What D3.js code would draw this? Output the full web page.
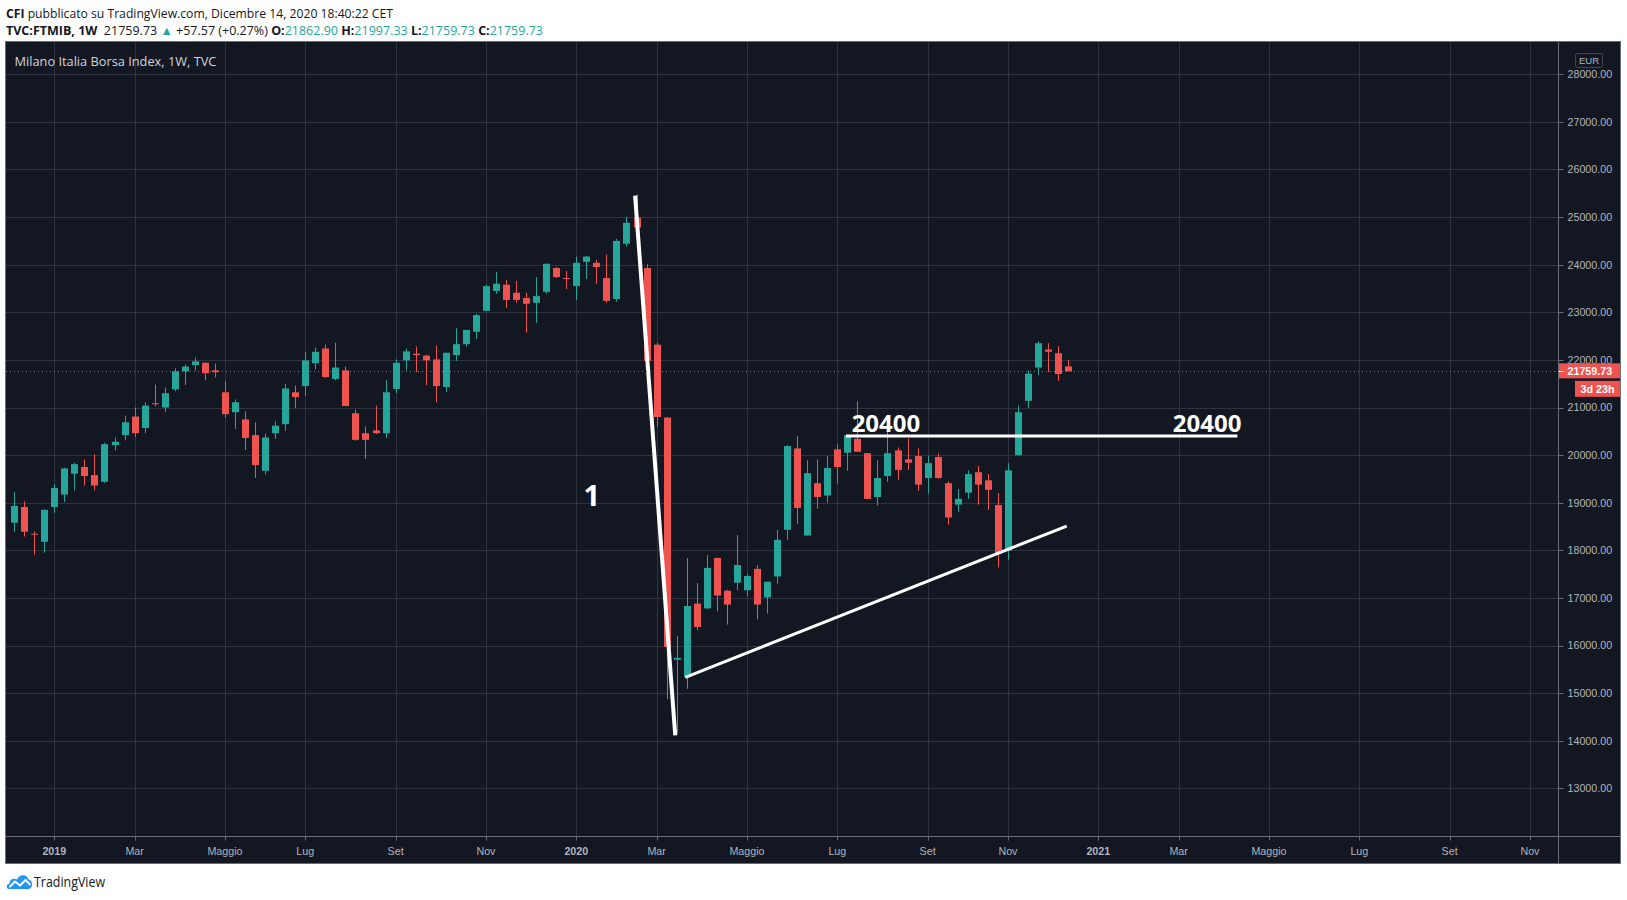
<!DOCTYPE html>
<html><head><meta charset="utf-8">
<script src="https://cdn.jsdelivr.net/npm/d3@7"></script>
<style>
html,body{margin:0;padding:0;background:#ffffff;}
svg{display:block;}
</style></head><body>
<svg id="chart" width="1627" height="900"></svg>
<script>
// ---------------- DATA ----------------
const firstWeek = "2018-12-10"; // Monday of first weekly bar
const openVals = [18580,18910,18350,18180,18910,19170,19610,19750,19580,19440,
  20210,20420,20810,20570,21090,21000,21380,21760,21890,21940,
  21780,21320,20900,20750,20420,19670,20460,20650,21320,21450,
  21930,22240,21600,21780,20880,20460,20520,20460,21390,21990,
  22130,22090,22010,21430,22100,22330,22590,23030,23450,23580,
  23410,23300,23200,23430,23930,23720,23550,24060,24040,23720,
  23280,24440,24990,23930,22320,20790,15700,15340,16880,16780,
  17840,17150,17320,17160,17610,17010,17450,18430,20140,18310,
  19410,19150,20120,20050,20340,20040,19120,19560,20100,19910,
  19980,19520,19960,19410,18960,19210,19640,19470,18950,17990,
  20000,21140,21840,22220,22140,21862.90];
const highVals = [19220,19030,18400,18860,19390,19740,19840,19910,20020,20260,
  20370,20830,21000,21110,21480,21420,21820,21900,22050,21950,
  21920,21550,21170,20920,20690,20450,20710,21500,21460,22170,
  22260,22320,22360,21860,20960,20600,21040,21570,22010,22240,
  22280,22110,22300,22150,22670,22630,22970,23580,23850,23680,
  23660,23410,23740,24020,23950,23870,24170,24190,24100,24210,
  24540,25010,25480,24010,22360,20790,16200,17840,17310,17900,
  17840,17170,18320,17500,17690,17340,18430,20210,20400,19890,
  19910,19980,20230,20420,21130,20040,19890,20480,20160,20350,
  20140,19980,20040,19450,19290,19680,19770,19600,19200,19830,
  21040,21780,22390,22350,22290,21997.33];
const lowVals = [18390,18290,17910,17950,18790,19010,19260,19360,19260,19420,
  20100,20310,20380,20460,21020,20900,21340,21470,21780,21570,
  21630,20780,20550,20110,19520,19590,20340,20510,20990,21240,
  21800,21620,21570,21030,20300,19920,20440,20360,21300,21780,
  21740,21470,21110,21320,21980,22280,22440,23030,23390,23090,
  23200,22570,22780,23390,23720,23490,23260,23700,23600,23200,
  23220,24380,24660,21690,20600,14870,14150,15090,16320,16760,
  16720,16440,17160,17030,16550,16670,17300,18220,18560,18310,
  18870,19000,19400,19670,20070,19080,18940,19440,19480,19690,
  19250,19190,19500,18540,18810,19080,18960,18850,17640,17800,
  19980,20990,21680,21740,21560,21759.73];
const closeVals = [18930,18390,18330,18850,19310,19720,19810,19560,19360,20230,
  20280,20690,20460,21040,21070,21300,21760,21860,21970,21720,
  21740,20860,21110,20360,19790,20370,20620,21400,21220,21990,
  22170,21640,21840,21030,20320,20320,20460,21320,21940,22180,
  22100,21990,21450,22150,22330,22630,22940,23550,23600,23260,
  23260,23180,23340,24020,23740,23700,24040,24170,23950,23240,
  24500,24880,24780,21980,20800,15970,15740,16830,16390,17630,
  17050,16860,17690,17460,16860,17340,18220,20190,18890,19620,
  19120,19730,19750,20420,20070,19080,19520,20040,19690,19840,
  19380,19830,19520,18690,19080,19600,19380,19270,17940,19680,
  20900,21710,22350,22170,21702.16,21759.73];

const priceTicks = [13000,14000,15000,16000,17000,18000,19000,20000,21000,22000,23000,24000,25000,26000,27000,28000];
const timeTickDates = ["2019-01-07","2019-03-04","2019-05-06","2019-07-01","2019-09-02","2019-11-04",
  "2020-01-06","2020-03-02","2020-05-04","2020-07-06","2020-09-07","2020-11-02",
  "2021-01-04","2021-03-01","2021-05-03","2021-07-05","2021-09-06","2021-11-01"];
const timeTickLabels = ["2019","Mar","Maggio","Lug","Set","Nov","2020","Mar","Maggio","Lug","Set","Nov",
  "2021","Mar","Maggio","Lug","Set","Nov"];

// drawings (date, price)
const lineStartDates = ["2020-02-16","2020-03-22","2020-07-12"];
const lineStartPrices = [25450,15330,20400];
const lineEndDates = ["2020-03-15","2020-12-13","2021-04-11"];
const lineEndPrices = [14110,18510,20400];
const noteTexts = ["1","20400","20400"];
const noteDates = ["2020-01-11","2020-07-16","2021-02-25"];
const noteBasePrices = [18924,20494,20494];

// ---------------- LAYOUT ----------------
const paneL = 6, paneT = 42, paneR = 1620, paneB = 863;
const plotR = 1558.5, plotB = 836.5;
const BG = "#131722", GRID = "#2f3340", BORDER = "#6a6d78", TXT = "#b2b5be";
const UP = "#26a69a", DOWN = "#ef5350";
const axisFont = "'Liberation Sans', Arial, sans-serif";

const parse = d3.timeParse("%Y-%m-%d");
const svg = d3.select("#chart");

const x = d3.scaleTime()
  .domain([parse("2020-01-06"), parse("2021-01-04")])
  .range([576.3, 1098.3]);
const y = d3.scaleLinear().domain([13000, 28000]).range([788.3, 74.3]);

const start = parse(firstWeek);
const bars = openVals.map((o, i) => ({
  date: d3.timeDay.offset(start, 7 * i),
  o, h: highVals[i], l: lowVals[i], c: closeVals[i]
}));

// pane background
svg.append("rect").attr("x", paneL).attr("y", paneT)
  .attr("width", paneR - paneL).attr("height", paneB - paneT).attr("fill", BG);

svg.append("clipPath").attr("id", "plotclip").append("rect")
  .attr("x", paneL).attr("y", paneT).attr("width", plotR - paneL).attr("height", plotB - paneT);

const plot = svg.append("g").attr("clip-path", "url(#plotclip)");

// grid
const tDates = timeTickDates.map(parse);
plot.selectAll("line.vg").data(tDates).join("line")
  .attr("x1", d => Math.round(x(d)) + 0.5).attr("x2", d => Math.round(x(d)) + 0.5)
  .attr("y1", paneT).attr("y2", plotB)
  .attr("stroke", GRID).attr("stroke-width", 1);
plot.selectAll("line.hg").data(priceTicks).join("line")
  .attr("x1", paneL).attr("x2", plotR)
  .attr("y1", d => Math.round(y(d)) + 0.5).attr("y2", d => Math.round(y(d)) + 0.5)
  .attr("stroke", GRID).attr("stroke-width", 1);

// candles
const cand = plot.append("g").selectAll("g").data(bars).join("g");
cand.append("line")
  .attr("x1", d => Math.round(x(d.date)) + 0.5).attr("x2", d => Math.round(x(d.date)) + 0.5)
  .attr("y1", d => y(d.h)).attr("y2", d => y(d.l))
  .attr("stroke", d => d.c >= d.o ? UP : DOWN).attr("stroke-width", 1);
cand.append("rect")
  .attr("x", d => Math.round(x(d.date)) - 3)
  .attr("width", 7)
  .attr("y", d => y(Math.max(d.o, d.c)))
  .attr("height", d => Math.max(1, Math.abs(y(d.o) - y(d.c))))
  .attr("fill", d => d.c >= d.o ? UP : DOWN);

// drawings
const lineWidths = [4, 3, 3];
plot.selectAll("line.draw").data(lineStartDates).join("line")
  .attr("x1", d => x(parse(d))).attr("y1", (d, i) => y(lineStartPrices[i]))
  .attr("x2", (d, i) => x(parse(lineEndDates[i]))).attr("y2", (d, i) => y(lineEndPrices[i]))
  .attr("stroke", "#ffffff").attr("stroke-width", (d, i) => lineWidths[i]);

const noteSizes = [29, 24, 24];
plot.selectAll("text.note").data(noteTexts).join("text")
  .attr("x", (d, i) => x(parse(noteDates[i])))
  .attr("y", (d, i) => y(noteBasePrices[i]))
  .attr("fill", "#ffffff")
  .style("font-family", "'Open Sans', sans-serif")
  .style("font-weight", 700)
  .style("font-size", (d, i) => noteSizes[i] + "px")
  .text(d => d);

// last price dotted line
const last = bars[bars.length - 1];
const prev = bars[bars.length - 2];
const ly = Math.round(y(last.c)) + 0.5;
plot.append("line").attr("x1", paneL).attr("x2", plotR).attr("y1", ly).attr("y2", ly)
  .attr("stroke", DOWN).attr("stroke-width", 1).attr("stroke-dasharray", "1,3");

// legend inside pane
const legend = svg.append("text").attr("x", 14.5).attr("y", 65.5)
  .attr("fill", "#d1d4dc").style("font-family", "'Open Sans', sans-serif").style("font-size", "13px")
  .text("Milano Italia Borsa Index, 1W, TVC");

// axes separators & border
svg.append("line").attr("x1", plotR).attr("x2", plotR).attr("y1", paneT).attr("y2", paneB)
  .attr("stroke", BORDER);
svg.append("line").attr("x1", paneL).attr("x2", paneR).attr("y1", plotB).attr("y2", plotB)
  .attr("stroke", BORDER);
svg.append("rect").attr("x", paneL - 0.5).attr("y", paneT - 0.5)
  .attr("width", paneR - paneL + 1).attr("height", paneB - paneT + 1)
  .attr("fill", "none").attr("stroke", BORDER);

// price axis
const pa = svg.append("g");
pa.selectAll("line").data(priceTicks).join("line")
  .attr("x1", plotR).attr("x2", plotR + 5)
  .attr("y1", d => Math.round(y(d)) + 0.5).attr("y2", d => Math.round(y(d)) + 0.5)
  .attr("stroke", BORDER);
pa.selectAll("text").data(priceTicks).join("text")
  .attr("x", 1567.5).attr("y", d => y(d)).attr("dy", "0.36em")
  .attr("fill", TXT).style("font-family", axisFont).style("font-size", "10.7px")
  .text(d => d3.format(".2f")(d));

// EUR box
svg.append("rect").attr("x", 1575.5).attr("y", 53.5).attr("width", 27).attr("height", 14).attr("rx", 2)
  .attr("fill", "none").attr("stroke", "#434651");
svg.append("text").attr("x", 1589).attr("y", 60.5).attr("dy", "0.36em").attr("text-anchor", "middle")
  .attr("fill", TXT).style("font-family", axisFont).style("font-size", "9.5px").text("EUR");

// last price label
const lyc = y(last.c);
svg.append("rect").attr("x", plotR + 0.5).attr("y", lyc - 8).attr("width", paneR - plotR - 0.5).attr("height", 15)
  .attr("fill", DOWN);
svg.append("line").attr("x1", plotR).attr("x2", plotR + 5).attr("y1", ly).attr("y2", ly).attr("stroke", "#ffffff");
svg.append("text").attr("x", 1567.5).attr("y", lyc - 0.5).attr("dy", "0.36em")
  .attr("fill", "#ffffff").style("font-family", axisFont).style("font-size", "10.7px").style("font-weight", 700)
  .text(d3.format(".2f")(last.c));
svg.append("rect").attr("x", 1575).attr("y", lyc + 9.5).attr("width", paneR - 1575).attr("height", 16)
  .attr("fill", DOWN);
svg.append("text").attr("x", 1597.5).attr("y", lyc + 17.5).attr("dy", "0.36em").attr("text-anchor", "middle")
  .attr("fill", "#ffffff").style("font-family", axisFont).style("font-size", "10.7px").style("font-weight", 700)
  .text("3d 23h");

// time axis
const ta = svg.append("g");
ta.selectAll("line").data(tDates).join("line")
  .attr("x1", d => Math.round(x(d)) + 0.5).attr("x2", d => Math.round(x(d)) + 0.5)
  .attr("y1", plotB).attr("y2", plotB + 4).attr("stroke", BORDER);
ta.selectAll("text").data(tDates).join("text")
  .attr("x", d => x(d)).attr("y", 851).attr("dy", "0.36em").attr("text-anchor", "middle")
  .attr("fill", TXT).style("font-family", axisFont).style("font-size", "10.7px")
  .style("font-weight", (d, i) => /^\d{4}$/.test(timeTickLabels[i]) ? 700 : 400)
  .text((d, i) => timeTickLabels[i]);

// header
function fitWidth(sel, target) {
  const w = sel.node().getComputedTextLength();
  const fs = parseFloat(sel.style("font-size"));
  sel.style("font-size", (fs * target / w) + "px");
}
function squeeze(sel, target) {
  sel.attr("textLength", target).attr("lengthAdjust", "spacingAndGlyphs");
}
const hdrFont = "'Open Sans', sans-serif";
const h1 = svg.append("text").attr("x", 6).attr("y", 17.5).attr("fill", "#131722")
  .style("font-family", hdrFont).style("font-size", "12.6px").style("white-space", "pre");
h1.append("tspan").style("font-weight", 700).text("CFI");
h1.append("tspan").text(" pubblicato su TradingView.com, Dicembre 14, 2020 18:40:22 CET");
squeeze(h1, 387);

const chg = last.c - prev.c;
const pct = chg / prev.c * 100;
const f2 = d3.format(".2f");
const parts = [
  ["TVC:FTMIB, 1W", 700, "#131722"],
  ["  " + f2(last.c) + " ", 400, "#131722"],
  ["\u25B2", 400, UP],
  [" +" + f2(chg) + " (+" + f2(pct) + "%) ", 400, "#131722"],
  ["O:", 700, "#131722"], [f2(last.o), 400, UP],
  [" H:", 700, "#131722"], [f2(last.h), 400, UP],
  [" L:", 700, "#131722"], [f2(last.l), 400, UP],
  [" C:", 700, "#131722"], [f2(last.c), 400, UP]
];
const h2 = svg.append("text").attr("x", 6).attr("y", 34.5)
  .style("font-family", hdrFont).style("font-size", "12.6px").style("white-space", "pre");
parts.forEach(p => h2.append("tspan").style("font-weight", p[1]).attr("fill", p[2]).text(p[0]));
squeeze(h2, 537);

// TradingView logo
const logo = svg.append("g").attr("transform", "translate(6,873)");
logo.append("path")
  .attr("d", "M3,16 C0,16 0,11 3.5,10.5 C3.5,6 8,4.5 11,6.5 C13,1 21,0.5 22.5,6.5 C25.5,7 26.5,10 26,12.5 C25.5,15 24,16 22,16 Z")
  .attr("fill", "#2196f3");
logo.append("path").attr("d", "M3.5,14 L9,8.5 L14,12.5 L19.5,7 L24.5,12")
  .attr("fill", "none").attr("stroke", "#ffffff").attr("stroke-width", 2).attr("stroke-linejoin", "round");
const tvt = svg.append("text").attr("x", 34).attr("y", 886.5).attr("fill", "#131722")
  .style("font-family", hdrFont).style("font-size", "14px").text("TradingView");
squeeze(tvt, 71);
fitWidth(legend, 202);
</script>
</body></html>
